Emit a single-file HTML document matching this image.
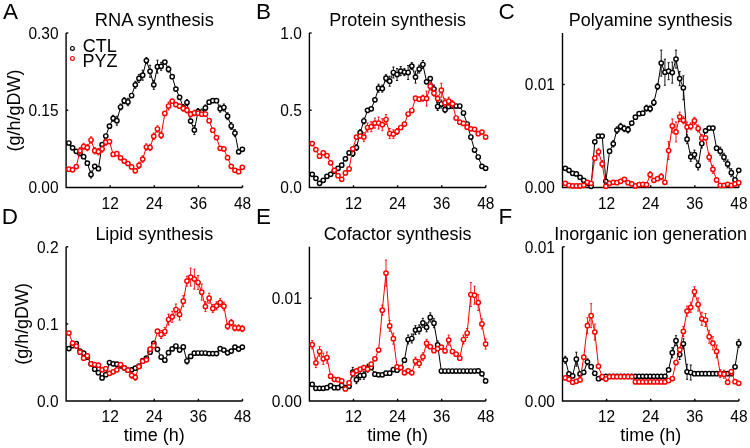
<!DOCTYPE html>
<html><head><meta charset="utf-8"><style>
html,body{margin:0;padding:0;background:#fff;width:750px;height:448px;overflow:hidden}
svg{display:block;will-change:transform}
text{font-family:"Liberation Sans",sans-serif}
</style></head><body>
<svg width="750" height="448" viewBox="0 0 750 448">
<rect width="750" height="448" fill="#fff"/>
<path d="M66.1 33V187.5H242.5" fill="none" stroke="#000" stroke-width="1.4" stroke-linejoin="miter" stroke-linecap="butt"/>
<text x="58.5" y="193.3" text-anchor="end" font-size="16" font-family="Liberation Sans, sans-serif" textLength="30.11" lengthAdjust="spacingAndGlyphs">0.00</text>
<path d="M66.1 110.25h2.2" stroke="#000" stroke-width="1.4"/>
<text x="58.5" y="116.05" text-anchor="end" font-size="16" font-family="Liberation Sans, sans-serif" textLength="30.11" lengthAdjust="spacingAndGlyphs">0.15</text>
<path d="M66.1 33h2.2" stroke="#000" stroke-width="1.4"/>
<text x="58.5" y="38.8" text-anchor="end" font-size="16" font-family="Liberation Sans, sans-serif" textLength="30.11" lengthAdjust="spacingAndGlyphs">0.30</text>
<path d="M110.2 187.5v-2.2" stroke="#000" stroke-width="1.4"/>
<text x="110.2" y="208.5" text-anchor="middle" font-size="16" font-family="Liberation Sans, sans-serif" textLength="17.21" lengthAdjust="spacingAndGlyphs">12</text>
<path d="M154.3 187.5v-2.2" stroke="#000" stroke-width="1.4"/>
<text x="154.3" y="208.5" text-anchor="middle" font-size="16" font-family="Liberation Sans, sans-serif" textLength="17.21" lengthAdjust="spacingAndGlyphs">24</text>
<path d="M198.4 187.5v-2.2" stroke="#000" stroke-width="1.4"/>
<text x="198.4" y="208.5" text-anchor="middle" font-size="16" font-family="Liberation Sans, sans-serif" textLength="17.21" lengthAdjust="spacingAndGlyphs">36</text>
<path d="M242.5 187.5v-2.2" stroke="#000" stroke-width="1.4"/>
<text x="242.5" y="208.5" text-anchor="middle" font-size="16" font-family="Liberation Sans, sans-serif" textLength="17.21" lengthAdjust="spacingAndGlyphs">48</text>
<text x="154.3" y="26.2" text-anchor="middle" font-size="18" font-family="Liberation Sans, sans-serif" textLength="118.98" lengthAdjust="spacingAndGlyphs">RNA synthesis</text>
<text x="3.1" y="18.5" font-size="22.5" font-family="Liberation Sans, sans-serif" textLength="14.98" lengthAdjust="spacingAndGlyphs">A</text>
<polyline points="68.89,143 72.58,147.8 76.27,151.3 79.96,153.6 83.65,156.7 87.34,163.2 91.03,174.5 94.72,166.3 98.41,168.7 102.1,144.7 105.79,136 109.48,126.2 113.17,118.3 116.86,120.7 120.55,107 124.24,100.7 127.93,102 131.62,95.5 135.31,84.8 139,78.4 142.69,75.2 146.38,60.6 150.07,71.3 153.76,84.8 157.45,66.7 161.14,66.3 164.83,62.1 168.52,69.2 172.21,76.7 175.9,89.1 179.59,97.3 183.28,107.5 186.97,102.5 190.66,121.1 194.35,130.1 198.04,111.5 201.73,112 205.42,107.9 209.11,102.2 212.8,100.7 216.49,100.7 220.18,108.7 223.87,107.5 227.56,116.2 231.25,126 234.94,133.1 238.63,151.8 242.32,149.3" fill="none" stroke="#000" stroke-width="1.0"/>
<path d="M91.03 171V178M89.93 171h2.2M89.93 178h2.2M113.17 115.3V121.3M112.07 115.3h2.2M112.07 121.3h2.2M116.86 116.2V125.2M115.76 116.2h2.2M115.76 125.2h2.2M120.55 104V110M119.45 104h2.2M119.45 110h2.2M124.24 97.7V103.7M123.14 97.7h2.2M123.14 103.7h2.2M127.93 98.3V105.7M126.83 98.3h2.2M126.83 105.7h2.2M135.31 81.3V88.3M134.21 81.3h2.2M134.21 88.3h2.2M139 74.4V82.4M137.9 74.4h2.2M137.9 82.4h2.2M142.69 70.2V80.2M141.59 70.2h2.2M141.59 80.2h2.2M146.38 57.6V63.6M145.28 57.6h2.2M145.28 63.6h2.2M150.07 65.3V77.3M148.97 65.3h2.2M148.97 77.3h2.2M153.76 80.3V89.3M152.66 80.3h2.2M152.66 89.3h2.2M157.45 60.2V73.2M156.35 60.2h2.2M156.35 73.2h2.2M161.14 62.3V70.3M160.04 62.3h2.2M160.04 70.3h2.2M168.52 66.2V72.2M167.42 66.2h2.2M167.42 72.2h2.2M183.28 104.5V110.5M182.18 104.5h2.2M182.18 110.5h2.2M186.97 99.5V105.5M185.87 99.5h2.2M185.87 105.5h2.2M194.35 125.6V134.6M193.25 125.6h2.2M193.25 134.6h2.2M198.04 108.5V114.5M196.94 108.5h2.2M196.94 114.5h2.2M201.73 109V115M200.63 109h2.2M200.63 115h2.2M205.42 104.9V110.9M204.32 104.9h2.2M204.32 110.9h2.2M220.18 105.2V112.2M219.08 105.2h2.2M219.08 112.2h2.2M223.87 104V111M222.77 104h2.2M222.77 111h2.2M227.56 112.7V119.7M226.46 112.7h2.2M226.46 119.7h2.2M231.25 122.5V129.5M230.15 122.5h2.2M230.15 129.5h2.2M234.94 129.6V136.6M233.84 129.6h2.2M233.84 136.6h2.2" fill="none" stroke="#000" stroke-width="0.9"/>
<g fill="#fff" stroke="#000" stroke-width="1.45"><circle cx="68.89" cy="143" r="2.15"/><circle cx="72.58" cy="147.8" r="2.15"/><circle cx="76.27" cy="151.3" r="2.15"/><circle cx="79.96" cy="153.6" r="2.15"/><circle cx="83.65" cy="156.7" r="2.15"/><circle cx="87.34" cy="163.2" r="2.15"/><circle cx="91.03" cy="174.5" r="2.15"/><circle cx="94.72" cy="166.3" r="2.15"/><circle cx="98.41" cy="168.7" r="2.15"/><circle cx="102.1" cy="144.7" r="2.15"/><circle cx="105.79" cy="136" r="2.15"/><circle cx="109.48" cy="126.2" r="2.15"/><circle cx="113.17" cy="118.3" r="2.15"/><circle cx="116.86" cy="120.7" r="2.15"/><circle cx="120.55" cy="107" r="2.15"/><circle cx="124.24" cy="100.7" r="2.15"/><circle cx="127.93" cy="102" r="2.15"/><circle cx="131.62" cy="95.5" r="2.15"/><circle cx="135.31" cy="84.8" r="2.15"/><circle cx="139" cy="78.4" r="2.15"/><circle cx="142.69" cy="75.2" r="2.15"/><circle cx="146.38" cy="60.6" r="2.15"/><circle cx="150.07" cy="71.3" r="2.15"/><circle cx="153.76" cy="84.8" r="2.15"/><circle cx="157.45" cy="66.7" r="2.15"/><circle cx="161.14" cy="66.3" r="2.15"/><circle cx="164.83" cy="62.1" r="2.15"/><circle cx="168.52" cy="69.2" r="2.15"/><circle cx="172.21" cy="76.7" r="2.15"/><circle cx="175.9" cy="89.1" r="2.15"/><circle cx="179.59" cy="97.3" r="2.15"/><circle cx="183.28" cy="107.5" r="2.15"/><circle cx="186.97" cy="102.5" r="2.15"/><circle cx="190.66" cy="121.1" r="2.15"/><circle cx="194.35" cy="130.1" r="2.15"/><circle cx="198.04" cy="111.5" r="2.15"/><circle cx="201.73" cy="112" r="2.15"/><circle cx="205.42" cy="107.9" r="2.15"/><circle cx="209.11" cy="102.2" r="2.15"/><circle cx="212.8" cy="100.7" r="2.15"/><circle cx="216.49" cy="100.7" r="2.15"/><circle cx="220.18" cy="108.7" r="2.15"/><circle cx="223.87" cy="107.5" r="2.15"/><circle cx="227.56" cy="116.2" r="2.15"/><circle cx="231.25" cy="126" r="2.15"/><circle cx="234.94" cy="133.1" r="2.15"/><circle cx="238.63" cy="151.8" r="2.15"/><circle cx="242.32" cy="149.3" r="2.15"/></g>
<polyline points="68.89,169.2 72.58,169.8 76.27,166.6 79.96,150.8 83.65,146.5 87.34,147.6 91.03,140 94.72,150.7 98.41,151.7 102.1,149 105.79,142.2 109.48,141.6 113.17,154.4 116.86,153.7 120.55,157.8 124.24,161.1 127.93,163.6 131.62,166.9 135.31,170.8 139,165.3 142.69,159.1 146.38,147 150.07,147.5 153.76,136.3 157.45,129 161.14,135.2 164.83,113.4 168.52,106 172.21,101.2 175.9,104.7 179.59,106.2 183.28,108.4 186.97,110.2 190.66,114.2 194.35,113 198.04,113.2 201.73,114.2 205.42,114 209.11,120.7 212.8,130.2 216.49,137.6 220.18,148.3 223.87,148.9 227.56,157.7 231.25,166.3 234.94,170.3 238.63,171.7 242.32,167.3" fill="none" stroke="#f00" stroke-width="1.0"/>
<path d="M79.96 147.6V154M78.86 147.6h2.2M78.86 154h2.2M83.65 143.3V149.7M82.55 143.3h2.2M82.55 149.7h2.2M87.34 144.4V150.8M86.24 144.4h2.2M86.24 150.8h2.2M91.03 136.8V143.2M89.93 136.8h2.2M89.93 143.2h2.2M94.72 147.5V153.9M93.62 147.5h2.2M93.62 153.9h2.2M98.41 148.5V154.9M97.31 148.5h2.2M97.31 154.9h2.2M102.1 145.8V152.2M101 145.8h2.2M101 152.2h2.2M105.79 139V145.4M104.69 139h2.2M104.69 145.4h2.2M139 162.1V168.5M137.9 162.1h2.2M137.9 168.5h2.2M142.69 155.9V162.3M141.59 155.9h2.2M141.59 162.3h2.2M146.38 143.8V150.2M145.28 143.8h2.2M145.28 150.2h2.2M150.07 144.3V150.7M148.97 144.3h2.2M148.97 150.7h2.2M153.76 133.1V139.5M152.66 133.1h2.2M152.66 139.5h2.2M157.45 125.8V132.2M156.35 125.8h2.2M156.35 132.2h2.2M161.14 132V138.4M160.04 132h2.2M160.04 138.4h2.2M168.52 102V110M167.42 102h2.2M167.42 110h2.2M183.28 105.6V111.2M182.18 105.6h2.2M182.18 111.2h2.2M186.97 107.4V113M185.87 107.4h2.2M185.87 113h2.2M190.66 111.4V117M189.56 111.4h2.2M189.56 117h2.2M194.35 110.2V115.8M193.25 110.2h2.2M193.25 115.8h2.2" fill="none" stroke="#f00" stroke-width="0.9"/>
<g fill="#fff" stroke="#f00" stroke-width="1.45"><circle cx="68.89" cy="169.2" r="2.15"/><circle cx="72.58" cy="169.8" r="2.15"/><circle cx="76.27" cy="166.6" r="2.15"/><circle cx="79.96" cy="150.8" r="2.15"/><circle cx="83.65" cy="146.5" r="2.15"/><circle cx="87.34" cy="147.6" r="2.15"/><circle cx="91.03" cy="140" r="2.15"/><circle cx="94.72" cy="150.7" r="2.15"/><circle cx="98.41" cy="151.7" r="2.15"/><circle cx="102.1" cy="149" r="2.15"/><circle cx="105.79" cy="142.2" r="2.15"/><circle cx="109.48" cy="141.6" r="2.15"/><circle cx="113.17" cy="154.4" r="2.15"/><circle cx="116.86" cy="153.7" r="2.15"/><circle cx="120.55" cy="157.8" r="2.15"/><circle cx="124.24" cy="161.1" r="2.15"/><circle cx="127.93" cy="163.6" r="2.15"/><circle cx="131.62" cy="166.9" r="2.15"/><circle cx="135.31" cy="170.8" r="2.15"/><circle cx="139" cy="165.3" r="2.15"/><circle cx="142.69" cy="159.1" r="2.15"/><circle cx="146.38" cy="147" r="2.15"/><circle cx="150.07" cy="147.5" r="2.15"/><circle cx="153.76" cy="136.3" r="2.15"/><circle cx="157.45" cy="129" r="2.15"/><circle cx="161.14" cy="135.2" r="2.15"/><circle cx="164.83" cy="113.4" r="2.15"/><circle cx="168.52" cy="106" r="2.15"/><circle cx="172.21" cy="101.2" r="2.15"/><circle cx="175.9" cy="104.7" r="2.15"/><circle cx="179.59" cy="106.2" r="2.15"/><circle cx="183.28" cy="108.4" r="2.15"/><circle cx="186.97" cy="110.2" r="2.15"/><circle cx="190.66" cy="114.2" r="2.15"/><circle cx="194.35" cy="113" r="2.15"/><circle cx="198.04" cy="113.2" r="2.15"/><circle cx="201.73" cy="114.2" r="2.15"/><circle cx="205.42" cy="114" r="2.15"/><circle cx="209.11" cy="120.7" r="2.15"/><circle cx="212.8" cy="130.2" r="2.15"/><circle cx="216.49" cy="137.6" r="2.15"/><circle cx="220.18" cy="148.3" r="2.15"/><circle cx="223.87" cy="148.9" r="2.15"/><circle cx="227.56" cy="157.7" r="2.15"/><circle cx="231.25" cy="166.3" r="2.15"/><circle cx="234.94" cy="170.3" r="2.15"/><circle cx="238.63" cy="171.7" r="2.15"/><circle cx="242.32" cy="167.3" r="2.15"/></g>
<path d="M309.4 33V187.5H485.8" fill="none" stroke="#000" stroke-width="1.4" stroke-linejoin="miter" stroke-linecap="butt"/>
<text x="301.8" y="193.3" text-anchor="end" font-size="16" font-family="Liberation Sans, sans-serif" textLength="21.50" lengthAdjust="spacingAndGlyphs">0.0</text>
<path d="M309.4 110.25h2.2" stroke="#000" stroke-width="1.4"/>
<text x="301.8" y="116.05" text-anchor="end" font-size="16" font-family="Liberation Sans, sans-serif" textLength="21.50" lengthAdjust="spacingAndGlyphs">0.5</text>
<path d="M309.4 33h2.2" stroke="#000" stroke-width="1.4"/>
<text x="301.8" y="38.8" text-anchor="end" font-size="16" font-family="Liberation Sans, sans-serif" textLength="21.50" lengthAdjust="spacingAndGlyphs">1.0</text>
<path d="M353.5 187.5v-2.2" stroke="#000" stroke-width="1.4"/>
<text x="353.5" y="208.5" text-anchor="middle" font-size="16" font-family="Liberation Sans, sans-serif" textLength="17.21" lengthAdjust="spacingAndGlyphs">12</text>
<path d="M397.6 187.5v-2.2" stroke="#000" stroke-width="1.4"/>
<text x="397.6" y="208.5" text-anchor="middle" font-size="16" font-family="Liberation Sans, sans-serif" textLength="17.21" lengthAdjust="spacingAndGlyphs">24</text>
<path d="M441.7 187.5v-2.2" stroke="#000" stroke-width="1.4"/>
<text x="441.7" y="208.5" text-anchor="middle" font-size="16" font-family="Liberation Sans, sans-serif" textLength="17.21" lengthAdjust="spacingAndGlyphs">36</text>
<path d="M485.8 187.5v-2.2" stroke="#000" stroke-width="1.4"/>
<text x="485.8" y="208.5" text-anchor="middle" font-size="16" font-family="Liberation Sans, sans-serif" textLength="17.21" lengthAdjust="spacingAndGlyphs">48</text>
<text x="397.6" y="26.2" text-anchor="middle" font-size="18" font-family="Liberation Sans, sans-serif" textLength="136.79" lengthAdjust="spacingAndGlyphs">Protein synthesis</text>
<text x="256" y="18.6" font-size="22.5" font-family="Liberation Sans, sans-serif" textLength="14.98" lengthAdjust="spacingAndGlyphs">B</text>
<polyline points="312.19,174.3 315.88,178.3 319.57,183.3 323.26,180.3 326.95,176.3 330.64,174.3 334.33,171 338.02,168.3 341.71,165.2 345.4,158.8 349.09,152.8 352.78,153.5 356.47,147.6 360.16,132.7 363.85,121 367.54,110.3 371.23,108.8 374.92,99.8 378.61,88.2 382.3,88.6 385.99,78.2 389.68,81.2 393.37,72.5 397.06,74.5 400.75,71.1 404.44,72.1 408.13,72.5 411.82,66.1 415.51,77.1 419.2,69.1 422.89,64.5 426.58,81.8 430.27,78.6 433.96,89 437.65,106.5 441.34,104 445.03,109.7 448.72,106.5 452.41,106 456.1,106 459.79,106 463.48,113 467.17,124 470.86,137 474.55,150 478.24,157 481.93,166.3 485.62,168.3" fill="none" stroke="#000" stroke-width="1.0"/>
<path d="M352.78 150.5V156.5M351.68 150.5h2.2M351.68 156.5h2.2M356.47 144.6V150.6M355.37 144.6h2.2M355.37 150.6h2.2M360.16 129.7V135.7M359.06 129.7h2.2M359.06 135.7h2.2M363.85 118V124M362.75 118h2.2M362.75 124h2.2M378.61 84.2V92.2M377.51 84.2h2.2M377.51 92.2h2.2M382.3 85.1V92.1M381.2 85.1h2.2M381.2 92.1h2.2M385.99 74.7V81.7M384.89 74.7h2.2M384.89 81.7h2.2M389.68 76.2V86.2M388.58 76.2h2.2M388.58 86.2h2.2M393.37 67V78M392.27 67h2.2M392.27 78h2.2M397.06 68.5V80.5M395.96 68.5h2.2M395.96 80.5h2.2M400.75 66.6V75.6M399.65 66.6h2.2M399.65 75.6h2.2M404.44 68.6V75.6M403.34 68.6h2.2M403.34 75.6h2.2M408.13 65.5V79.5M407.03 65.5h2.2M407.03 79.5h2.2M411.82 62.6V69.6M410.72 62.6h2.2M410.72 69.6h2.2M415.51 71.1V83.1M414.41 71.1h2.2M414.41 83.1h2.2M419.2 65.1V73.1M418.1 65.1h2.2M418.1 73.1h2.2M422.89 60.5V68.5M421.79 60.5h2.2M421.79 68.5h2.2M433.96 85V93M432.86 85h2.2M432.86 93h2.2M437.65 102.5V110.5M436.55 102.5h2.2M436.55 110.5h2.2M441.34 100V108M440.24 100h2.2M440.24 108h2.2M445.03 106.7V112.7M443.93 106.7h2.2M443.93 112.7h2.2" fill="none" stroke="#000" stroke-width="0.9"/>
<g fill="#fff" stroke="#000" stroke-width="1.45"><circle cx="312.19" cy="174.3" r="2.15"/><circle cx="315.88" cy="178.3" r="2.15"/><circle cx="319.57" cy="183.3" r="2.15"/><circle cx="323.26" cy="180.3" r="2.15"/><circle cx="326.95" cy="176.3" r="2.15"/><circle cx="330.64" cy="174.3" r="2.15"/><circle cx="334.33" cy="171" r="2.15"/><circle cx="338.02" cy="168.3" r="2.15"/><circle cx="341.71" cy="165.2" r="2.15"/><circle cx="345.4" cy="158.8" r="2.15"/><circle cx="349.09" cy="152.8" r="2.15"/><circle cx="352.78" cy="153.5" r="2.15"/><circle cx="356.47" cy="147.6" r="2.15"/><circle cx="360.16" cy="132.7" r="2.15"/><circle cx="363.85" cy="121" r="2.15"/><circle cx="367.54" cy="110.3" r="2.15"/><circle cx="371.23" cy="108.8" r="2.15"/><circle cx="374.92" cy="99.8" r="2.15"/><circle cx="378.61" cy="88.2" r="2.15"/><circle cx="382.3" cy="88.6" r="2.15"/><circle cx="385.99" cy="78.2" r="2.15"/><circle cx="389.68" cy="81.2" r="2.15"/><circle cx="393.37" cy="72.5" r="2.15"/><circle cx="397.06" cy="74.5" r="2.15"/><circle cx="400.75" cy="71.1" r="2.15"/><circle cx="404.44" cy="72.1" r="2.15"/><circle cx="408.13" cy="72.5" r="2.15"/><circle cx="411.82" cy="66.1" r="2.15"/><circle cx="415.51" cy="77.1" r="2.15"/><circle cx="419.2" cy="69.1" r="2.15"/><circle cx="422.89" cy="64.5" r="2.15"/><circle cx="426.58" cy="81.8" r="2.15"/><circle cx="430.27" cy="78.6" r="2.15"/><circle cx="433.96" cy="89" r="2.15"/><circle cx="437.65" cy="106.5" r="2.15"/><circle cx="441.34" cy="104" r="2.15"/><circle cx="445.03" cy="109.7" r="2.15"/><circle cx="448.72" cy="106.5" r="2.15"/><circle cx="452.41" cy="106" r="2.15"/><circle cx="456.1" cy="106" r="2.15"/><circle cx="459.79" cy="106" r="2.15"/><circle cx="463.48" cy="113" r="2.15"/><circle cx="467.17" cy="124" r="2.15"/><circle cx="470.86" cy="137" r="2.15"/><circle cx="474.55" cy="150" r="2.15"/><circle cx="478.24" cy="157" r="2.15"/><circle cx="481.93" cy="166.3" r="2.15"/><circle cx="485.62" cy="168.3" r="2.15"/></g>
<polyline points="312.19,143.6 315.88,149.6 319.57,156.2 323.26,152.8 326.95,155.6 330.64,162.8 334.33,170.3 338.02,175.7 341.71,179.3 345.4,172.9 349.09,168.9 352.78,148.8 356.47,137.1 360.16,136.1 363.85,137.1 367.54,127.5 371.23,126.7 374.92,123.1 378.61,123.1 382.3,124.7 385.99,119.5 389.68,133.5 393.37,134.1 397.06,131.5 400.75,127.5 404.44,124.1 408.13,114 411.82,110.5 415.51,98.2 419.2,99.2 422.89,98.2 426.58,98.6 430.27,86.2 433.96,93.2 437.65,98.6 441.34,90.2 445.03,102.7 448.72,101.2 452.41,103.9 456.1,118 459.79,122.2 463.48,123.4 467.17,127.2 470.86,128.8 474.55,129.3 478.24,133.7 481.93,132.1 485.62,137.1" fill="none" stroke="#f00" stroke-width="1.0"/>
<path d="M363.85 132.6V141.6M362.75 132.6h2.2M362.75 141.6h2.2M367.54 123V132M366.44 123h2.2M366.44 132h2.2M371.23 121.7V131.7M370.13 121.7h2.2M370.13 131.7h2.2M374.92 118.1V128.1M373.82 118.1h2.2M373.82 128.1h2.2M378.61 117.1V129.1M377.51 117.1h2.2M377.51 129.1h2.2M382.3 118.7V130.7M381.2 118.7h2.2M381.2 130.7h2.2M385.99 114.5V124.5M384.89 114.5h2.2M384.89 124.5h2.2M389.68 128.5V138.5M388.58 128.5h2.2M388.58 138.5h2.2M393.37 129.8V138.4M392.27 129.8h2.2M392.27 138.4h2.2M397.06 128.5V134.5M395.96 128.5h2.2M395.96 134.5h2.2M422.89 95.2V101.2M421.79 95.2h2.2M421.79 101.2h2.2M426.58 91.1V106.1M425.48 91.1h2.2M425.48 106.1h2.2M430.27 82.2V90.2M429.17 82.2h2.2M429.17 90.2h2.2M433.96 90.2V96.2M432.86 90.2h2.2M432.86 96.2h2.2M437.65 95.6V101.6M436.55 95.6h2.2M436.55 101.6h2.2M441.34 83.2V97.2M440.24 83.2h2.2M440.24 97.2h2.2M445.03 98.7V106.7M443.93 98.7h2.2M443.93 106.7h2.2M448.72 97.2V105.2M447.62 97.2h2.2M447.62 105.2h2.2M452.41 100.4V107.4M451.31 100.4h2.2M451.31 107.4h2.2" fill="none" stroke="#f00" stroke-width="0.9"/>
<g fill="#fff" stroke="#f00" stroke-width="1.45"><circle cx="312.19" cy="143.6" r="2.15"/><circle cx="315.88" cy="149.6" r="2.15"/><circle cx="319.57" cy="156.2" r="2.15"/><circle cx="323.26" cy="152.8" r="2.15"/><circle cx="326.95" cy="155.6" r="2.15"/><circle cx="330.64" cy="162.8" r="2.15"/><circle cx="334.33" cy="170.3" r="2.15"/><circle cx="338.02" cy="175.7" r="2.15"/><circle cx="341.71" cy="179.3" r="2.15"/><circle cx="345.4" cy="172.9" r="2.15"/><circle cx="349.09" cy="168.9" r="2.15"/><circle cx="352.78" cy="148.8" r="2.15"/><circle cx="356.47" cy="137.1" r="2.15"/><circle cx="360.16" cy="136.1" r="2.15"/><circle cx="363.85" cy="137.1" r="2.15"/><circle cx="367.54" cy="127.5" r="2.15"/><circle cx="371.23" cy="126.7" r="2.15"/><circle cx="374.92" cy="123.1" r="2.15"/><circle cx="378.61" cy="123.1" r="2.15"/><circle cx="382.3" cy="124.7" r="2.15"/><circle cx="385.99" cy="119.5" r="2.15"/><circle cx="389.68" cy="133.5" r="2.15"/><circle cx="393.37" cy="134.1" r="2.15"/><circle cx="397.06" cy="131.5" r="2.15"/><circle cx="400.75" cy="127.5" r="2.15"/><circle cx="404.44" cy="124.1" r="2.15"/><circle cx="408.13" cy="114" r="2.15"/><circle cx="411.82" cy="110.5" r="2.15"/><circle cx="415.51" cy="98.2" r="2.15"/><circle cx="419.2" cy="99.2" r="2.15"/><circle cx="422.89" cy="98.2" r="2.15"/><circle cx="426.58" cy="98.6" r="2.15"/><circle cx="430.27" cy="86.2" r="2.15"/><circle cx="433.96" cy="93.2" r="2.15"/><circle cx="437.65" cy="98.6" r="2.15"/><circle cx="441.34" cy="90.2" r="2.15"/><circle cx="445.03" cy="102.7" r="2.15"/><circle cx="448.72" cy="101.2" r="2.15"/><circle cx="452.41" cy="103.9" r="2.15"/><circle cx="456.1" cy="118" r="2.15"/><circle cx="459.79" cy="122.2" r="2.15"/><circle cx="463.48" cy="123.4" r="2.15"/><circle cx="467.17" cy="127.2" r="2.15"/><circle cx="470.86" cy="128.8" r="2.15"/><circle cx="474.55" cy="129.3" r="2.15"/><circle cx="478.24" cy="133.7" r="2.15"/><circle cx="481.93" cy="132.1" r="2.15"/><circle cx="485.62" cy="137.1" r="2.15"/></g>
<path d="M562.5 33V187.5H738.9" fill="none" stroke="#000" stroke-width="1.4" stroke-linejoin="miter" stroke-linecap="butt"/>
<text x="554.9" y="193.3" text-anchor="end" font-size="16" font-family="Liberation Sans, sans-serif" textLength="30.11" lengthAdjust="spacingAndGlyphs">0.00</text>
<path d="M562.5 84.5h2.2" stroke="#000" stroke-width="1.4"/>
<text x="554.9" y="90.3" text-anchor="end" font-size="16" font-family="Liberation Sans, sans-serif" textLength="30.11" lengthAdjust="spacingAndGlyphs">0.01</text>
<path d="M606.6 187.5v-2.2" stroke="#000" stroke-width="1.4"/>
<text x="606.6" y="208.5" text-anchor="middle" font-size="16" font-family="Liberation Sans, sans-serif" textLength="17.21" lengthAdjust="spacingAndGlyphs">12</text>
<path d="M650.7 187.5v-2.2" stroke="#000" stroke-width="1.4"/>
<text x="650.7" y="208.5" text-anchor="middle" font-size="16" font-family="Liberation Sans, sans-serif" textLength="17.21" lengthAdjust="spacingAndGlyphs">24</text>
<path d="M694.8 187.5v-2.2" stroke="#000" stroke-width="1.4"/>
<text x="694.8" y="208.5" text-anchor="middle" font-size="16" font-family="Liberation Sans, sans-serif" textLength="17.21" lengthAdjust="spacingAndGlyphs">36</text>
<path d="M738.9 187.5v-2.2" stroke="#000" stroke-width="1.4"/>
<text x="738.9" y="208.5" text-anchor="middle" font-size="16" font-family="Liberation Sans, sans-serif" textLength="17.21" lengthAdjust="spacingAndGlyphs">48</text>
<text x="650.7" y="26.2" text-anchor="middle" font-size="18" font-family="Liberation Sans, sans-serif" textLength="163.75" lengthAdjust="spacingAndGlyphs">Polyamine synthesis</text>
<text x="498.5" y="18.6" font-size="22.5" font-family="Liberation Sans, sans-serif" textLength="16.22" lengthAdjust="spacingAndGlyphs">C</text>
<polyline points="565.29,168.3 568.98,170.3 572.67,173.3 576.36,173.9 580.05,177.3 583.74,180.3 587.43,183.3 591.12,186.3 594.81,141.8 598.5,136.1 602.19,136.1 605.88,181.3 609.57,151.2 613.26,143.8 616.95,130.1 620.64,126.5 624.33,128.5 628.02,129.7 631.71,123.1 635.4,117.2 639.09,113.7 642.78,113.2 646.47,108.2 650.16,108.8 653.85,102.5 657.54,86.6 661.23,63.1 664.92,72.2 668.61,71.2 672.3,72.6 675.99,59.1 679.68,78.6 683.37,87.8 687.06,139.2 690.75,156.8 694.44,154.6 698.13,165.5 701.82,143.5 705.51,130.8 709.2,128.1 712.89,128.1 716.58,148.2 720.27,151.2 723.96,157.2 727.65,163.9 731.34,172.7 735.03,179.9 738.72,170.3" fill="none" stroke="#000" stroke-width="1.0"/>
<path d="M613.26 140.6V147M612.16 140.6h2.2M612.16 147h2.2M616.95 126.9V133.3M615.85 126.9h2.2M615.85 133.3h2.2M620.64 123.3V129.7M619.54 123.3h2.2M619.54 129.7h2.2M624.33 125.3V131.7M623.23 125.3h2.2M623.23 131.7h2.2M628.02 126.5V132.9M626.92 126.5h2.2M626.92 132.9h2.2M646.47 105.2V111.2M645.37 105.2h2.2M645.37 111.2h2.2M650.16 105.8V111.8M649.06 105.8h2.2M649.06 111.8h2.2M653.85 99.5V105.5M652.75 99.5h2.2M652.75 105.5h2.2M657.54 83.6V89.6M656.44 83.6h2.2M656.44 89.6h2.2M661.23 50.1V76.1M660.13 50.1h2.2M660.13 76.1h2.2M664.92 59.2V85.2M663.82 59.2h2.2M663.82 85.2h2.2M668.61 62.7V79.7M667.51 62.7h2.2M667.51 79.7h2.2M672.3 62.1V83.1M671.2 62.1h2.2M671.2 83.1h2.2M675.99 50.1V68.1M674.89 50.1h2.2M674.89 68.1h2.2M679.68 71.6V85.6M678.58 71.6h2.2M678.58 85.6h2.2M683.37 75.8V99.8M682.27 75.8h2.2M682.27 99.8h2.2M687.06 134.7V143.7M685.96 134.7h2.2M685.96 143.7h2.2M690.75 152.3V161.3M689.65 152.3h2.2M689.65 161.3h2.2M694.44 150.1V159.1M693.34 150.1h2.2M693.34 159.1h2.2M698.13 161V170M697.03 161h2.2M697.03 170h2.2M701.82 139V148M700.72 139h2.2M700.72 148h2.2M720.27 147.2V155.2M719.17 147.2h2.2M719.17 155.2h2.2M723.96 153.2V161.2M722.86 153.2h2.2M722.86 161.2h2.2M727.65 159.9V167.9M726.55 159.9h2.2M726.55 167.9h2.2M731.34 168.7V176.7M730.24 168.7h2.2M730.24 176.7h2.2" fill="none" stroke="#000" stroke-width="0.9"/>
<g fill="#fff" stroke="#000" stroke-width="1.45"><circle cx="565.29" cy="168.3" r="2.15"/><circle cx="568.98" cy="170.3" r="2.15"/><circle cx="572.67" cy="173.3" r="2.15"/><circle cx="576.36" cy="173.9" r="2.15"/><circle cx="580.05" cy="177.3" r="2.15"/><circle cx="583.74" cy="180.3" r="2.15"/><circle cx="587.43" cy="183.3" r="2.15"/><circle cx="591.12" cy="186.3" r="2.15"/><circle cx="594.81" cy="141.8" r="2.15"/><circle cx="598.5" cy="136.1" r="2.15"/><circle cx="602.19" cy="136.1" r="2.15"/><circle cx="605.88" cy="181.3" r="2.15"/><circle cx="609.57" cy="151.2" r="2.15"/><circle cx="613.26" cy="143.8" r="2.15"/><circle cx="616.95" cy="130.1" r="2.15"/><circle cx="620.64" cy="126.5" r="2.15"/><circle cx="624.33" cy="128.5" r="2.15"/><circle cx="628.02" cy="129.7" r="2.15"/><circle cx="631.71" cy="123.1" r="2.15"/><circle cx="635.4" cy="117.2" r="2.15"/><circle cx="639.09" cy="113.7" r="2.15"/><circle cx="642.78" cy="113.2" r="2.15"/><circle cx="646.47" cy="108.2" r="2.15"/><circle cx="650.16" cy="108.8" r="2.15"/><circle cx="653.85" cy="102.5" r="2.15"/><circle cx="657.54" cy="86.6" r="2.15"/><circle cx="661.23" cy="63.1" r="2.15"/><circle cx="664.92" cy="72.2" r="2.15"/><circle cx="668.61" cy="71.2" r="2.15"/><circle cx="672.3" cy="72.6" r="2.15"/><circle cx="675.99" cy="59.1" r="2.15"/><circle cx="679.68" cy="78.6" r="2.15"/><circle cx="683.37" cy="87.8" r="2.15"/><circle cx="687.06" cy="139.2" r="2.15"/><circle cx="690.75" cy="156.8" r="2.15"/><circle cx="694.44" cy="154.6" r="2.15"/><circle cx="698.13" cy="165.5" r="2.15"/><circle cx="701.82" cy="143.5" r="2.15"/><circle cx="705.51" cy="130.8" r="2.15"/><circle cx="709.2" cy="128.1" r="2.15"/><circle cx="712.89" cy="128.1" r="2.15"/><circle cx="716.58" cy="148.2" r="2.15"/><circle cx="720.27" cy="151.2" r="2.15"/><circle cx="723.96" cy="157.2" r="2.15"/><circle cx="727.65" cy="163.9" r="2.15"/><circle cx="731.34" cy="172.7" r="2.15"/><circle cx="735.03" cy="179.9" r="2.15"/><circle cx="738.72" cy="170.3" r="2.15"/></g>
<polyline points="565.29,183.3 568.98,185.3 572.67,185.9 576.36,185.9 580.05,185.9 583.74,185.3 587.43,182.3 591.12,183.3 594.81,158.2 598.5,151.8 602.19,163.9 605.88,186.3 609.57,183.3 613.26,182.3 616.95,182.7 620.64,181.3 624.33,179.3 628.02,182.7 631.71,183.9 635.4,185.9 639.09,184.7 642.78,184.3 646.47,184.7 650.16,174.7 653.85,180.3 657.54,178.7 661.23,176.7 664.92,182.3 668.61,150.6 672.3,125.9 675.99,131.9 679.68,116.8 683.37,120.3 687.06,127.1 690.75,126.3 694.44,120.8 698.13,128.5 701.82,138 705.51,137.8 709.2,157.2 712.89,169.3 716.58,179.9 720.27,185.3 723.96,185.3 727.65,184.3 731.34,185.3 735.03,183.9 738.72,182.7" fill="none" stroke="#f00" stroke-width="1.0"/>
<path d="M598.5 148.3V155.3M597.4 148.3h2.2M597.4 155.3h2.2M602.19 160.4V167.4M601.09 160.4h2.2M601.09 167.4h2.2M650.16 171.7V177.7M649.06 171.7h2.2M649.06 177.7h2.2M661.23 173.7V179.7M660.13 173.7h2.2M660.13 179.7h2.2M668.61 141.6V159.6M667.51 141.6h2.2M667.51 159.6h2.2M672.3 118.9V132.9M671.2 118.9h2.2M671.2 132.9h2.2M675.99 121.9V141.9M674.89 121.9h2.2M674.89 141.9h2.2M679.68 112.1V121.5M678.58 112.1h2.2M678.58 121.5h2.2M683.37 116.8V123.8M682.27 116.8h2.2M682.27 123.8h2.2M687.06 122.1V132.1M685.96 122.1h2.2M685.96 132.1h2.2M690.75 122.8V129.8M689.65 122.8h2.2M689.65 129.8h2.2M694.44 117.3V124.3M693.34 117.3h2.2M693.34 124.3h2.2M698.13 125V132M697.03 125h2.2M697.03 132h2.2M701.82 134.5V141.5M700.72 134.5h2.2M700.72 141.5h2.2M709.2 153.2V161.2M708.1 153.2h2.2M708.1 161.2h2.2M712.89 165.3V173.3M711.79 165.3h2.2M711.79 173.3h2.2" fill="none" stroke="#f00" stroke-width="0.9"/>
<g fill="#fff" stroke="#f00" stroke-width="1.45"><circle cx="565.29" cy="183.3" r="2.15"/><circle cx="568.98" cy="185.3" r="2.15"/><circle cx="572.67" cy="185.9" r="2.15"/><circle cx="576.36" cy="185.9" r="2.15"/><circle cx="580.05" cy="185.9" r="2.15"/><circle cx="583.74" cy="185.3" r="2.15"/><circle cx="587.43" cy="182.3" r="2.15"/><circle cx="591.12" cy="183.3" r="2.15"/><circle cx="594.81" cy="158.2" r="2.15"/><circle cx="598.5" cy="151.8" r="2.15"/><circle cx="602.19" cy="163.9" r="2.15"/><circle cx="605.88" cy="186.3" r="2.15"/><circle cx="609.57" cy="183.3" r="2.15"/><circle cx="613.26" cy="182.3" r="2.15"/><circle cx="616.95" cy="182.7" r="2.15"/><circle cx="620.64" cy="181.3" r="2.15"/><circle cx="624.33" cy="179.3" r="2.15"/><circle cx="628.02" cy="182.7" r="2.15"/><circle cx="631.71" cy="183.9" r="2.15"/><circle cx="635.4" cy="185.9" r="2.15"/><circle cx="639.09" cy="184.7" r="2.15"/><circle cx="642.78" cy="184.3" r="2.15"/><circle cx="646.47" cy="184.7" r="2.15"/><circle cx="650.16" cy="174.7" r="2.15"/><circle cx="653.85" cy="180.3" r="2.15"/><circle cx="657.54" cy="178.7" r="2.15"/><circle cx="661.23" cy="176.7" r="2.15"/><circle cx="664.92" cy="182.3" r="2.15"/><circle cx="668.61" cy="150.6" r="2.15"/><circle cx="672.3" cy="125.9" r="2.15"/><circle cx="675.99" cy="131.9" r="2.15"/><circle cx="679.68" cy="116.8" r="2.15"/><circle cx="683.37" cy="120.3" r="2.15"/><circle cx="687.06" cy="127.1" r="2.15"/><circle cx="690.75" cy="126.3" r="2.15"/><circle cx="694.44" cy="120.8" r="2.15"/><circle cx="698.13" cy="128.5" r="2.15"/><circle cx="701.82" cy="138" r="2.15"/><circle cx="705.51" cy="137.8" r="2.15"/><circle cx="709.2" cy="157.2" r="2.15"/><circle cx="712.89" cy="169.3" r="2.15"/><circle cx="716.58" cy="179.9" r="2.15"/><circle cx="720.27" cy="185.3" r="2.15"/><circle cx="723.96" cy="185.3" r="2.15"/><circle cx="727.65" cy="184.3" r="2.15"/><circle cx="731.34" cy="185.3" r="2.15"/><circle cx="735.03" cy="183.9" r="2.15"/><circle cx="738.72" cy="182.7" r="2.15"/></g>
<path d="M66.1 246.8V401H242.5" fill="none" stroke="#000" stroke-width="1.4" stroke-linejoin="miter" stroke-linecap="butt"/>
<text x="58.5" y="406.8" text-anchor="end" font-size="16" font-family="Liberation Sans, sans-serif" textLength="21.50" lengthAdjust="spacingAndGlyphs">0.0</text>
<path d="M66.1 323.9h2.2" stroke="#000" stroke-width="1.4"/>
<text x="58.5" y="329.7" text-anchor="end" font-size="16" font-family="Liberation Sans, sans-serif" textLength="21.50" lengthAdjust="spacingAndGlyphs">0.1</text>
<path d="M66.1 246.8h2.2" stroke="#000" stroke-width="1.4"/>
<text x="58.5" y="252.6" text-anchor="end" font-size="16" font-family="Liberation Sans, sans-serif" textLength="21.50" lengthAdjust="spacingAndGlyphs">0.2</text>
<path d="M110.2 401v-2.2" stroke="#000" stroke-width="1.4"/>
<text x="110.2" y="422" text-anchor="middle" font-size="16" font-family="Liberation Sans, sans-serif" textLength="17.21" lengthAdjust="spacingAndGlyphs">12</text>
<path d="M154.3 401v-2.2" stroke="#000" stroke-width="1.4"/>
<text x="154.3" y="422" text-anchor="middle" font-size="16" font-family="Liberation Sans, sans-serif" textLength="17.21" lengthAdjust="spacingAndGlyphs">24</text>
<path d="M198.4 401v-2.2" stroke="#000" stroke-width="1.4"/>
<text x="198.4" y="422" text-anchor="middle" font-size="16" font-family="Liberation Sans, sans-serif" textLength="17.21" lengthAdjust="spacingAndGlyphs">36</text>
<path d="M242.5 401v-2.2" stroke="#000" stroke-width="1.4"/>
<text x="242.5" y="422" text-anchor="middle" font-size="16" font-family="Liberation Sans, sans-serif" textLength="17.21" lengthAdjust="spacingAndGlyphs">48</text>
<text x="154.3" y="240" text-anchor="middle" font-size="18" font-family="Liberation Sans, sans-serif" textLength="117.83" lengthAdjust="spacingAndGlyphs">Lipid synthesis</text>
<text x="1.7" y="223.7" font-size="22.5" font-family="Liberation Sans, sans-serif" textLength="16.22" lengthAdjust="spacingAndGlyphs">D</text>
<polyline points="68.89,348.6 72.58,345.5 76.27,343.7 79.96,351 83.65,353.2 87.34,357.2 91.03,363.8 94.72,369.2 98.41,372.7 102.1,377.9 105.79,374.7 109.48,362.6 113.17,363.8 116.86,364.2 120.55,365.8 124.24,367.8 127.93,370.2 131.62,369.8 135.31,368.2 139,366.2 142.69,360.6 146.38,358.2 150.07,352.2 153.76,343.4 157.45,349.3 161.14,357 164.83,360.2 168.52,352.7 172.21,348.9 175.9,346 179.59,350 183.28,346.9 186.97,361 190.66,356.4 194.35,353.2 198.04,353 201.73,353 205.42,353 209.11,353.6 212.8,353.6 216.49,353.6 220.18,348.7 223.87,350.1 227.56,352.8 231.25,351.1 234.94,347.1 238.63,349.1 242.32,347.1" fill="none" stroke="#000" stroke-width="1.0"/>
<path d="M186.97 358V364M185.87 358h2.2M185.87 364h2.2" fill="none" stroke="#000" stroke-width="0.9"/>
<g fill="#fff" stroke="#000" stroke-width="1.45"><circle cx="68.89" cy="348.6" r="2.15"/><circle cx="72.58" cy="345.5" r="2.15"/><circle cx="76.27" cy="343.7" r="2.15"/><circle cx="79.96" cy="351" r="2.15"/><circle cx="83.65" cy="353.2" r="2.15"/><circle cx="87.34" cy="357.2" r="2.15"/><circle cx="91.03" cy="363.8" r="2.15"/><circle cx="94.72" cy="369.2" r="2.15"/><circle cx="98.41" cy="372.7" r="2.15"/><circle cx="102.1" cy="377.9" r="2.15"/><circle cx="105.79" cy="374.7" r="2.15"/><circle cx="109.48" cy="362.6" r="2.15"/><circle cx="113.17" cy="363.8" r="2.15"/><circle cx="116.86" cy="364.2" r="2.15"/><circle cx="120.55" cy="365.8" r="2.15"/><circle cx="124.24" cy="367.8" r="2.15"/><circle cx="127.93" cy="370.2" r="2.15"/><circle cx="131.62" cy="369.8" r="2.15"/><circle cx="135.31" cy="368.2" r="2.15"/><circle cx="139" cy="366.2" r="2.15"/><circle cx="142.69" cy="360.6" r="2.15"/><circle cx="146.38" cy="358.2" r="2.15"/><circle cx="150.07" cy="352.2" r="2.15"/><circle cx="153.76" cy="343.4" r="2.15"/><circle cx="157.45" cy="349.3" r="2.15"/><circle cx="161.14" cy="357" r="2.15"/><circle cx="164.83" cy="360.2" r="2.15"/><circle cx="168.52" cy="352.7" r="2.15"/><circle cx="172.21" cy="348.9" r="2.15"/><circle cx="175.9" cy="346" r="2.15"/><circle cx="179.59" cy="350" r="2.15"/><circle cx="183.28" cy="346.9" r="2.15"/><circle cx="186.97" cy="361" r="2.15"/><circle cx="190.66" cy="356.4" r="2.15"/><circle cx="194.35" cy="353.2" r="2.15"/><circle cx="198.04" cy="353" r="2.15"/><circle cx="201.73" cy="353" r="2.15"/><circle cx="205.42" cy="353" r="2.15"/><circle cx="209.11" cy="353.6" r="2.15"/><circle cx="212.8" cy="353.6" r="2.15"/><circle cx="216.49" cy="353.6" r="2.15"/><circle cx="220.18" cy="348.7" r="2.15"/><circle cx="223.87" cy="350.1" r="2.15"/><circle cx="227.56" cy="352.8" r="2.15"/><circle cx="231.25" cy="351.1" r="2.15"/><circle cx="234.94" cy="347.1" r="2.15"/><circle cx="238.63" cy="349.1" r="2.15"/><circle cx="242.32" cy="347.1" r="2.15"/></g>
<polyline points="68.89,333.1 72.58,343.1 76.27,346.1 79.96,352.2 83.65,358.2 87.34,355.8 91.03,363.8 94.72,364.6 98.41,365.2 102.1,369.8 105.79,368.6 109.48,373.3 113.17,371.8 116.86,369.8 120.55,364.6 124.24,367.8 127.93,370.2 131.62,375.3 135.31,377.3 139,366.6 142.69,361.2 146.38,359.8 150.07,349.2 153.76,345.7 157.45,331.2 161.14,334.5 164.83,331.5 168.52,319.5 172.21,316.8 175.9,309.5 179.59,314.6 183.28,301.2 186.97,281.1 190.66,277.1 194.35,279.1 198.04,282.5 201.73,292.2 205.42,306.6 209.11,298.2 212.8,308.6 216.49,305.8 220.18,302.6 223.87,306.2 227.56,326.3 231.25,322.7 234.94,327.9 238.63,327.9 242.32,328.7" fill="none" stroke="#f00" stroke-width="1.0"/>
<path d="M131.62 372.3V378.3M130.52 372.3h2.2M130.52 378.3h2.2M135.31 374.3V380.3M134.21 374.3h2.2M134.21 380.3h2.2M161.14 330.5V338.5M160.04 330.5h2.2M160.04 338.5h2.2M164.83 327.5V335.5M163.73 327.5h2.2M163.73 335.5h2.2M168.52 314V325M167.42 314h2.2M167.42 325h2.2M172.21 311.3V322.3M171.11 311.3h2.2M171.11 322.3h2.2M175.9 304V315M174.8 304h2.2M174.8 315h2.2M179.59 309.1V320.1M178.49 309.1h2.2M178.49 320.1h2.2M183.28 295.7V306.7M182.18 295.7h2.2M182.18 306.7h2.2M186.97 276.1V286.1M185.87 276.1h2.2M185.87 286.1h2.2M190.66 268.1V286.1M189.56 268.1h2.2M189.56 286.1h2.2M194.35 269.1V289.1M193.25 269.1h2.2M193.25 289.1h2.2M198.04 275.5V289.5M196.94 275.5h2.2M196.94 289.5h2.2M201.73 284.2V300.2M200.63 284.2h2.2M200.63 300.2h2.2M205.42 301.6V311.6M204.32 301.6h2.2M204.32 311.6h2.2M209.11 293.2V303.2M208.01 293.2h2.2M208.01 303.2h2.2M212.8 304.6V312.6M211.7 304.6h2.2M211.7 312.6h2.2M216.49 301.8V309.8M215.39 301.8h2.2M215.39 309.8h2.2M220.18 298.6V306.6M219.08 298.6h2.2M219.08 306.6h2.2M223.87 302.2V310.2M222.77 302.2h2.2M222.77 310.2h2.2M227.56 323.3V329.3M226.46 323.3h2.2M226.46 329.3h2.2M231.25 319.7V325.7M230.15 319.7h2.2M230.15 325.7h2.2M234.94 324.9V330.9M233.84 324.9h2.2M233.84 330.9h2.2M238.63 324.9V330.9M237.53 324.9h2.2M237.53 330.9h2.2M242.32 325.7V331.7M241.22 325.7h2.2M241.22 331.7h2.2" fill="none" stroke="#f00" stroke-width="0.9"/>
<g fill="#fff" stroke="#f00" stroke-width="1.45"><circle cx="68.89" cy="333.1" r="2.15"/><circle cx="72.58" cy="343.1" r="2.15"/><circle cx="76.27" cy="346.1" r="2.15"/><circle cx="79.96" cy="352.2" r="2.15"/><circle cx="83.65" cy="358.2" r="2.15"/><circle cx="87.34" cy="355.8" r="2.15"/><circle cx="91.03" cy="363.8" r="2.15"/><circle cx="94.72" cy="364.6" r="2.15"/><circle cx="98.41" cy="365.2" r="2.15"/><circle cx="102.1" cy="369.8" r="2.15"/><circle cx="105.79" cy="368.6" r="2.15"/><circle cx="109.48" cy="373.3" r="2.15"/><circle cx="113.17" cy="371.8" r="2.15"/><circle cx="116.86" cy="369.8" r="2.15"/><circle cx="120.55" cy="364.6" r="2.15"/><circle cx="124.24" cy="367.8" r="2.15"/><circle cx="127.93" cy="370.2" r="2.15"/><circle cx="131.62" cy="375.3" r="2.15"/><circle cx="135.31" cy="377.3" r="2.15"/><circle cx="139" cy="366.6" r="2.15"/><circle cx="142.69" cy="361.2" r="2.15"/><circle cx="146.38" cy="359.8" r="2.15"/><circle cx="150.07" cy="349.2" r="2.15"/><circle cx="153.76" cy="345.7" r="2.15"/><circle cx="157.45" cy="331.2" r="2.15"/><circle cx="161.14" cy="334.5" r="2.15"/><circle cx="164.83" cy="331.5" r="2.15"/><circle cx="168.52" cy="319.5" r="2.15"/><circle cx="172.21" cy="316.8" r="2.15"/><circle cx="175.9" cy="309.5" r="2.15"/><circle cx="179.59" cy="314.6" r="2.15"/><circle cx="183.28" cy="301.2" r="2.15"/><circle cx="186.97" cy="281.1" r="2.15"/><circle cx="190.66" cy="277.1" r="2.15"/><circle cx="194.35" cy="279.1" r="2.15"/><circle cx="198.04" cy="282.5" r="2.15"/><circle cx="201.73" cy="292.2" r="2.15"/><circle cx="205.42" cy="306.6" r="2.15"/><circle cx="209.11" cy="298.2" r="2.15"/><circle cx="212.8" cy="308.6" r="2.15"/><circle cx="216.49" cy="305.8" r="2.15"/><circle cx="220.18" cy="302.6" r="2.15"/><circle cx="223.87" cy="306.2" r="2.15"/><circle cx="227.56" cy="326.3" r="2.15"/><circle cx="231.25" cy="322.7" r="2.15"/><circle cx="234.94" cy="327.9" r="2.15"/><circle cx="238.63" cy="327.9" r="2.15"/><circle cx="242.32" cy="328.7" r="2.15"/></g>
<path d="M309.4 246.8V401H485.8" fill="none" stroke="#000" stroke-width="1.4" stroke-linejoin="miter" stroke-linecap="butt"/>
<text x="301.8" y="406.8" text-anchor="end" font-size="16" font-family="Liberation Sans, sans-serif" textLength="30.11" lengthAdjust="spacingAndGlyphs">0.00</text>
<path d="M309.4 298.2h2.2" stroke="#000" stroke-width="1.4"/>
<text x="301.8" y="304" text-anchor="end" font-size="16" font-family="Liberation Sans, sans-serif" textLength="30.11" lengthAdjust="spacingAndGlyphs">0.01</text>
<path d="M353.5 401v-2.2" stroke="#000" stroke-width="1.4"/>
<text x="353.5" y="422" text-anchor="middle" font-size="16" font-family="Liberation Sans, sans-serif" textLength="17.21" lengthAdjust="spacingAndGlyphs">12</text>
<path d="M397.6 401v-2.2" stroke="#000" stroke-width="1.4"/>
<text x="397.6" y="422" text-anchor="middle" font-size="16" font-family="Liberation Sans, sans-serif" textLength="17.21" lengthAdjust="spacingAndGlyphs">24</text>
<path d="M441.7 401v-2.2" stroke="#000" stroke-width="1.4"/>
<text x="441.7" y="422" text-anchor="middle" font-size="16" font-family="Liberation Sans, sans-serif" textLength="17.21" lengthAdjust="spacingAndGlyphs">36</text>
<path d="M485.8 401v-2.2" stroke="#000" stroke-width="1.4"/>
<text x="485.8" y="422" text-anchor="middle" font-size="16" font-family="Liberation Sans, sans-serif" textLength="17.21" lengthAdjust="spacingAndGlyphs">48</text>
<text x="397.6" y="240" text-anchor="middle" font-size="18" font-family="Liberation Sans, sans-serif" textLength="147.76" lengthAdjust="spacingAndGlyphs">Cofactor synthesis</text>
<text x="255.9" y="223.7" font-size="22.5" font-family="Liberation Sans, sans-serif" textLength="14.98" lengthAdjust="spacingAndGlyphs">E</text>
<polyline points="312.19,384.3 315.88,388.3 319.57,388.3 323.26,388.3 326.95,387.7 330.64,385.7 334.33,387.7 338.02,387.7 341.71,385.3 345.4,387.7 349.09,386.3 352.78,372.2 356.47,379.7 360.16,375.6 363.85,375.2 367.54,368.2 371.23,367.6 374.92,374.2 378.61,374.8 382.3,374.8 385.99,373.2 389.68,373.2 393.37,369.6 397.06,370.2 400.75,367.6 404.44,360.2 408.13,339.5 411.82,338.5 415.51,330.1 419.2,329.4 422.89,322.8 426.58,327.3 430.27,317.4 433.96,323.2 437.65,344.9 441.34,371 445.03,371 448.72,371 452.41,371 456.1,371 459.79,371 463.48,371 467.17,371 470.86,371 474.55,371 478.24,370.8 481.93,373.8 485.62,380.9" fill="none" stroke="#000" stroke-width="1.0"/>
<path d="M352.78 367.4V377M351.68 367.4h2.2M351.68 377h2.2M356.47 375.7V383.7M355.37 375.7h2.2M355.37 383.7h2.2M360.16 371.6V379.6M359.06 371.6h2.2M359.06 379.6h2.2M363.85 371.2V379.2M362.75 371.2h2.2M362.75 379.2h2.2M367.54 364.2V372.2M366.44 364.2h2.2M366.44 372.2h2.2M408.13 335V344M407.03 335h2.2M407.03 344h2.2M411.82 334V343M410.72 334h2.2M410.72 343h2.2M415.51 325.6V334.6M414.41 325.6h2.2M414.41 334.6h2.2M419.2 324.9V333.9M418.1 324.9h2.2M418.1 333.9h2.2M422.89 318.3V327.3M421.79 318.3h2.2M421.79 327.3h2.2M426.58 322.8V331.8M425.48 322.8h2.2M425.48 331.8h2.2M430.27 312.9V321.9M429.17 312.9h2.2M429.17 321.9h2.2M433.96 318.7V327.7M432.86 318.7h2.2M432.86 327.7h2.2M437.65 340.9V348.9M436.55 340.9h2.2M436.55 348.9h2.2" fill="none" stroke="#000" stroke-width="0.9"/>
<g fill="#fff" stroke="#000" stroke-width="1.45"><circle cx="312.19" cy="384.3" r="2.15"/><circle cx="315.88" cy="388.3" r="2.15"/><circle cx="319.57" cy="388.3" r="2.15"/><circle cx="323.26" cy="388.3" r="2.15"/><circle cx="326.95" cy="387.7" r="2.15"/><circle cx="330.64" cy="385.7" r="2.15"/><circle cx="334.33" cy="387.7" r="2.15"/><circle cx="338.02" cy="387.7" r="2.15"/><circle cx="341.71" cy="385.3" r="2.15"/><circle cx="345.4" cy="387.7" r="2.15"/><circle cx="349.09" cy="386.3" r="2.15"/><circle cx="352.78" cy="372.2" r="2.15"/><circle cx="356.47" cy="379.7" r="2.15"/><circle cx="360.16" cy="375.6" r="2.15"/><circle cx="363.85" cy="375.2" r="2.15"/><circle cx="367.54" cy="368.2" r="2.15"/><circle cx="371.23" cy="367.6" r="2.15"/><circle cx="374.92" cy="374.2" r="2.15"/><circle cx="378.61" cy="374.8" r="2.15"/><circle cx="382.3" cy="374.8" r="2.15"/><circle cx="385.99" cy="373.2" r="2.15"/><circle cx="389.68" cy="373.2" r="2.15"/><circle cx="393.37" cy="369.6" r="2.15"/><circle cx="397.06" cy="370.2" r="2.15"/><circle cx="400.75" cy="367.6" r="2.15"/><circle cx="404.44" cy="360.2" r="2.15"/><circle cx="408.13" cy="339.5" r="2.15"/><circle cx="411.82" cy="338.5" r="2.15"/><circle cx="415.51" cy="330.1" r="2.15"/><circle cx="419.2" cy="329.4" r="2.15"/><circle cx="422.89" cy="322.8" r="2.15"/><circle cx="426.58" cy="327.3" r="2.15"/><circle cx="430.27" cy="317.4" r="2.15"/><circle cx="433.96" cy="323.2" r="2.15"/><circle cx="437.65" cy="344.9" r="2.15"/><circle cx="441.34" cy="371" r="2.15"/><circle cx="445.03" cy="371" r="2.15"/><circle cx="448.72" cy="371" r="2.15"/><circle cx="452.41" cy="371" r="2.15"/><circle cx="456.1" cy="371" r="2.15"/><circle cx="459.79" cy="371" r="2.15"/><circle cx="463.48" cy="371" r="2.15"/><circle cx="467.17" cy="371" r="2.15"/><circle cx="470.86" cy="371" r="2.15"/><circle cx="474.55" cy="371" r="2.15"/><circle cx="478.24" cy="370.8" r="2.15"/><circle cx="481.93" cy="373.8" r="2.15"/><circle cx="485.62" cy="380.9" r="2.15"/></g>
<polyline points="312.19,344.7 315.88,362.8 319.57,351.5 323.26,358.8 326.95,357.6 330.64,376.2 334.33,379.3 338.02,379.7 341.71,380.9 345.4,388.9 349.09,382.9 352.78,373.6 356.47,370.8 360.16,369.2 363.85,367.6 367.54,369.2 371.23,364.2 374.92,358.8 378.61,350.1 382.3,310.2 385.99,273.1 389.68,325.9 393.37,338.7 397.06,366.8 400.75,367.6 404.44,372.8 408.13,370.8 411.82,372.8 415.51,361.2 419.2,363.6 422.89,356.8 426.58,343.3 430.27,346.7 433.96,350.7 437.65,348.7 441.34,347.1 445.03,350.9 448.72,340.1 452.41,351.5 456.1,354.2 459.79,358.2 463.48,339.5 467.17,333 470.86,294.6 474.55,295.2 478.24,302.6 481.93,323.9 485.62,344.1" fill="none" stroke="#f00" stroke-width="1.0"/>
<path d="M312.19 340.5V348.9M311.09 340.5h2.2M311.09 348.9h2.2M315.88 358V367.6M314.78 358h2.2M314.78 367.6h2.2M319.57 346.7V356.3M318.47 346.7h2.2M318.47 356.3h2.2M323.26 353.2V364.4M322.16 353.2h2.2M322.16 364.4h2.2M326.95 352V363.2M325.85 352h2.2M325.85 363.2h2.2M382.3 305.2V315.2M381.2 305.2h2.2M381.2 315.2h2.2M385.99 260.1V286.1M384.89 260.1h2.2M384.89 286.1h2.2M389.68 320.4V331.4M388.58 320.4h2.2M388.58 331.4h2.2M393.37 333.2V344.2M392.27 333.2h2.2M392.27 344.2h2.2M415.51 357.2V365.2M414.41 357.2h2.2M414.41 365.2h2.2M419.2 359.6V367.6M418.1 359.6h2.2M418.1 367.6h2.2M422.89 352.8V360.8M421.79 352.8h2.2M421.79 360.8h2.2M426.58 339.3V347.3M425.48 339.3h2.2M425.48 347.3h2.2M448.72 335.1V345.1M447.62 335.1h2.2M447.62 345.1h2.2M463.48 335V344M462.38 335h2.2M462.38 344h2.2M467.17 328.5V337.5M466.07 328.5h2.2M466.07 337.5h2.2M470.86 282.6V306.6M469.76 282.6h2.2M469.76 306.6h2.2M474.55 286.2V304.2M473.45 286.2h2.2M473.45 304.2h2.2M478.24 294.6V310.6M477.14 294.6h2.2M477.14 310.6h2.2M481.93 318.9V328.9M480.83 318.9h2.2M480.83 328.9h2.2M485.62 339.1V349.1M484.52 339.1h2.2M484.52 349.1h2.2" fill="none" stroke="#f00" stroke-width="0.9"/>
<g fill="#fff" stroke="#f00" stroke-width="1.45"><circle cx="312.19" cy="344.7" r="2.15"/><circle cx="315.88" cy="362.8" r="2.15"/><circle cx="319.57" cy="351.5" r="2.15"/><circle cx="323.26" cy="358.8" r="2.15"/><circle cx="326.95" cy="357.6" r="2.15"/><circle cx="330.64" cy="376.2" r="2.15"/><circle cx="334.33" cy="379.3" r="2.15"/><circle cx="338.02" cy="379.7" r="2.15"/><circle cx="341.71" cy="380.9" r="2.15"/><circle cx="345.4" cy="388.9" r="2.15"/><circle cx="349.09" cy="382.9" r="2.15"/><circle cx="352.78" cy="373.6" r="2.15"/><circle cx="356.47" cy="370.8" r="2.15"/><circle cx="360.16" cy="369.2" r="2.15"/><circle cx="363.85" cy="367.6" r="2.15"/><circle cx="367.54" cy="369.2" r="2.15"/><circle cx="371.23" cy="364.2" r="2.15"/><circle cx="374.92" cy="358.8" r="2.15"/><circle cx="378.61" cy="350.1" r="2.15"/><circle cx="382.3" cy="310.2" r="2.15"/><circle cx="385.99" cy="273.1" r="2.15"/><circle cx="389.68" cy="325.9" r="2.15"/><circle cx="393.37" cy="338.7" r="2.15"/><circle cx="397.06" cy="366.8" r="2.15"/><circle cx="400.75" cy="367.6" r="2.15"/><circle cx="404.44" cy="372.8" r="2.15"/><circle cx="408.13" cy="370.8" r="2.15"/><circle cx="411.82" cy="372.8" r="2.15"/><circle cx="415.51" cy="361.2" r="2.15"/><circle cx="419.2" cy="363.6" r="2.15"/><circle cx="422.89" cy="356.8" r="2.15"/><circle cx="426.58" cy="343.3" r="2.15"/><circle cx="430.27" cy="346.7" r="2.15"/><circle cx="433.96" cy="350.7" r="2.15"/><circle cx="437.65" cy="348.7" r="2.15"/><circle cx="441.34" cy="347.1" r="2.15"/><circle cx="445.03" cy="350.9" r="2.15"/><circle cx="448.72" cy="340.1" r="2.15"/><circle cx="452.41" cy="351.5" r="2.15"/><circle cx="456.1" cy="354.2" r="2.15"/><circle cx="459.79" cy="358.2" r="2.15"/><circle cx="463.48" cy="339.5" r="2.15"/><circle cx="467.17" cy="333" r="2.15"/><circle cx="470.86" cy="294.6" r="2.15"/><circle cx="474.55" cy="295.2" r="2.15"/><circle cx="478.24" cy="302.6" r="2.15"/><circle cx="481.93" cy="323.9" r="2.15"/><circle cx="485.62" cy="344.1" r="2.15"/></g>
<path d="M562.5 246.8V401H738.9" fill="none" stroke="#000" stroke-width="1.4" stroke-linejoin="miter" stroke-linecap="butt"/>
<text x="554.9" y="406.8" text-anchor="end" font-size="16" font-family="Liberation Sans, sans-serif" textLength="30.11" lengthAdjust="spacingAndGlyphs">0.00</text>
<path d="M562.5 246.8h2.2" stroke="#000" stroke-width="1.4"/>
<text x="554.9" y="252.6" text-anchor="end" font-size="16" font-family="Liberation Sans, sans-serif" textLength="30.11" lengthAdjust="spacingAndGlyphs">0.01</text>
<path d="M606.6 401v-2.2" stroke="#000" stroke-width="1.4"/>
<text x="606.6" y="422" text-anchor="middle" font-size="16" font-family="Liberation Sans, sans-serif" textLength="17.21" lengthAdjust="spacingAndGlyphs">12</text>
<path d="M650.7 401v-2.2" stroke="#000" stroke-width="1.4"/>
<text x="650.7" y="422" text-anchor="middle" font-size="16" font-family="Liberation Sans, sans-serif" textLength="17.21" lengthAdjust="spacingAndGlyphs">24</text>
<path d="M694.8 401v-2.2" stroke="#000" stroke-width="1.4"/>
<text x="694.8" y="422" text-anchor="middle" font-size="16" font-family="Liberation Sans, sans-serif" textLength="17.21" lengthAdjust="spacingAndGlyphs">36</text>
<path d="M738.9 401v-2.2" stroke="#000" stroke-width="1.4"/>
<text x="738.9" y="422" text-anchor="middle" font-size="16" font-family="Liberation Sans, sans-serif" textLength="17.21" lengthAdjust="spacingAndGlyphs">48</text>
<text x="650.7" y="240" text-anchor="middle" font-size="18" font-family="Liberation Sans, sans-serif" textLength="192.75" lengthAdjust="spacingAndGlyphs">Inorganic ion generation</text>
<text x="498.4" y="223.7" font-size="22.5" font-family="Liberation Sans, sans-serif" textLength="13.72" lengthAdjust="spacingAndGlyphs">F</text>
<polyline points="565.29,359.8 568.98,373.9 572.67,375.9 576.36,359.2 580.05,373.9 583.74,372.3 587.43,361.8 591.12,366.7 594.81,373.3 598.5,378.7 602.19,377.3 605.88,376.3 609.57,376.3 613.26,376.3 616.95,376.3 620.64,376.3 624.33,376.3 628.02,376.3 631.71,376.3 635.4,376.3 639.09,376.3 642.78,376.3 646.47,376.3 650.16,376.3 653.85,376.3 657.54,376.3 661.23,376.3 664.92,376.3 668.61,369.8 672.3,352.7 675.99,340.7 679.68,354.5 683.37,343.8 687.06,371.8 690.75,372.5 694.44,373.7 698.13,373.7 701.82,373.7 705.51,373.7 709.2,373.7 712.89,373.7 716.58,373.7 720.27,373.7 723.96,373.7 727.65,373.7 731.34,373.7 735.03,366.8 738.72,343.4" fill="none" stroke="#000" stroke-width="1.0"/>
<path d="M565.29 356.3V363.3M564.19 356.3h2.2M564.19 363.3h2.2M576.36 352.2V366.2M575.26 352.2h2.2M575.26 366.2h2.2M587.43 358.8V364.8M586.33 358.8h2.2M586.33 364.8h2.2M672.3 347.7V357.7M671.2 347.7h2.2M671.2 357.7h2.2M675.99 335.7V345.7M674.89 335.7h2.2M674.89 345.7h2.2M679.68 349.5V359.5M678.58 349.5h2.2M678.58 359.5h2.2M683.37 338.8V348.8M682.27 338.8h2.2M682.27 348.8h2.2M687.06 364.3V379.3M685.96 364.3h2.2M685.96 379.3h2.2M690.75 365V380M689.65 365h2.2M689.65 380h2.2M738.72 339.4V347.4M737.62 339.4h2.2M737.62 347.4h2.2" fill="none" stroke="#000" stroke-width="0.9"/>
<g fill="#fff" stroke="#000" stroke-width="1.45"><circle cx="565.29" cy="359.8" r="2.15"/><circle cx="568.98" cy="373.9" r="2.15"/><circle cx="572.67" cy="375.9" r="2.15"/><circle cx="576.36" cy="359.2" r="2.15"/><circle cx="580.05" cy="373.9" r="2.15"/><circle cx="583.74" cy="372.3" r="2.15"/><circle cx="587.43" cy="361.8" r="2.15"/><circle cx="591.12" cy="366.7" r="2.15"/><circle cx="594.81" cy="373.3" r="2.15"/><circle cx="598.5" cy="378.7" r="2.15"/><circle cx="602.19" cy="377.3" r="2.15"/><circle cx="605.88" cy="376.3" r="2.15"/><circle cx="609.57" cy="376.3" r="2.15"/><circle cx="613.26" cy="376.3" r="2.15"/><circle cx="616.95" cy="376.3" r="2.15"/><circle cx="620.64" cy="376.3" r="2.15"/><circle cx="624.33" cy="376.3" r="2.15"/><circle cx="628.02" cy="376.3" r="2.15"/><circle cx="631.71" cy="376.3" r="2.15"/><circle cx="635.4" cy="376.3" r="2.15"/><circle cx="639.09" cy="376.3" r="2.15"/><circle cx="642.78" cy="376.3" r="2.15"/><circle cx="646.47" cy="376.3" r="2.15"/><circle cx="650.16" cy="376.3" r="2.15"/><circle cx="653.85" cy="376.3" r="2.15"/><circle cx="657.54" cy="376.3" r="2.15"/><circle cx="661.23" cy="376.3" r="2.15"/><circle cx="664.92" cy="376.3" r="2.15"/><circle cx="668.61" cy="369.8" r="2.15"/><circle cx="672.3" cy="352.7" r="2.15"/><circle cx="675.99" cy="340.7" r="2.15"/><circle cx="679.68" cy="354.5" r="2.15"/><circle cx="683.37" cy="343.8" r="2.15"/><circle cx="687.06" cy="371.8" r="2.15"/><circle cx="690.75" cy="372.5" r="2.15"/><circle cx="694.44" cy="373.7" r="2.15"/><circle cx="698.13" cy="373.7" r="2.15"/><circle cx="701.82" cy="373.7" r="2.15"/><circle cx="705.51" cy="373.7" r="2.15"/><circle cx="709.2" cy="373.7" r="2.15"/><circle cx="712.89" cy="373.7" r="2.15"/><circle cx="716.58" cy="373.7" r="2.15"/><circle cx="720.27" cy="373.7" r="2.15"/><circle cx="723.96" cy="373.7" r="2.15"/><circle cx="727.65" cy="373.7" r="2.15"/><circle cx="731.34" cy="373.7" r="2.15"/><circle cx="735.03" cy="366.8" r="2.15"/><circle cx="738.72" cy="343.4" r="2.15"/></g>
<polyline points="565.29,377.9 568.98,379.3 572.67,382.3 576.36,381.3 580.05,379.9 583.74,357.2 587.43,325.7 591.12,315.7 594.81,332.1 598.5,366.3 602.19,376.7 605.88,379 609.57,376.7 613.26,376.7 616.95,376.7 620.64,376.7 624.33,376.7 628.02,376.7 631.71,376.7 635.4,381.9 639.09,381.9 642.78,381.9 646.47,381.9 650.16,381.9 653.85,381.9 657.54,381.9 661.23,381.9 664.92,381.9 668.61,380.5 672.3,378.6 675.99,362.5 679.68,349.7 683.37,331.4 687.06,311.1 690.75,307.3 694.44,291.7 698.13,304.5 701.82,318.8 705.51,320 709.2,336.7 712.89,343.2 716.58,351.4 720.27,373.6 723.96,374.2 727.65,382.3 731.34,371.6 735.03,381.7 738.72,383.3" fill="none" stroke="#f00" stroke-width="1.0"/>
<path d="M587.43 317.7V333.7M586.33 317.7h2.2M586.33 333.7h2.2M591.12 303.7V327.7M590.02 303.7h2.2M590.02 327.7h2.2M594.81 324.1V340.1M593.71 324.1h2.2M593.71 340.1h2.2M683.37 326.4V336.4M682.27 326.4h2.2M682.27 336.4h2.2M687.06 306.1V316.1M685.96 306.1h2.2M685.96 316.1h2.2M690.75 302.3V312.3M689.65 302.3h2.2M689.65 312.3h2.2M694.44 286.7V296.7M693.34 286.7h2.2M693.34 296.7h2.2M698.13 298V311M697.03 298h2.2M697.03 311h2.2M701.82 312.3V325.3M700.72 312.3h2.2M700.72 325.3h2.2M705.51 313.5V326.5M704.41 313.5h2.2M704.41 326.5h2.2M709.2 330.2V343.2M708.1 330.2h2.2M708.1 343.2h2.2M712.89 336.7V349.7M711.79 336.7h2.2M711.79 349.7h2.2M716.58 344.9V357.9M715.48 344.9h2.2M715.48 357.9h2.2M720.27 369.6V377.6M719.17 369.6h2.2M719.17 377.6h2.2M723.96 370.2V378.2M722.86 370.2h2.2M722.86 378.2h2.2" fill="none" stroke="#f00" stroke-width="0.9"/>
<g fill="#fff" stroke="#f00" stroke-width="1.45"><circle cx="565.29" cy="377.9" r="2.15"/><circle cx="568.98" cy="379.3" r="2.15"/><circle cx="572.67" cy="382.3" r="2.15"/><circle cx="576.36" cy="381.3" r="2.15"/><circle cx="580.05" cy="379.9" r="2.15"/><circle cx="583.74" cy="357.2" r="2.15"/><circle cx="587.43" cy="325.7" r="2.15"/><circle cx="591.12" cy="315.7" r="2.15"/><circle cx="594.81" cy="332.1" r="2.15"/><circle cx="598.5" cy="366.3" r="2.15"/><circle cx="602.19" cy="376.7" r="2.15"/><circle cx="605.88" cy="379" r="2.15"/><circle cx="609.57" cy="376.7" r="2.15"/><circle cx="613.26" cy="376.7" r="2.15"/><circle cx="616.95" cy="376.7" r="2.15"/><circle cx="620.64" cy="376.7" r="2.15"/><circle cx="624.33" cy="376.7" r="2.15"/><circle cx="628.02" cy="376.7" r="2.15"/><circle cx="631.71" cy="376.7" r="2.15"/><circle cx="635.4" cy="381.9" r="2.15"/><circle cx="639.09" cy="381.9" r="2.15"/><circle cx="642.78" cy="381.9" r="2.15"/><circle cx="646.47" cy="381.9" r="2.15"/><circle cx="650.16" cy="381.9" r="2.15"/><circle cx="653.85" cy="381.9" r="2.15"/><circle cx="657.54" cy="381.9" r="2.15"/><circle cx="661.23" cy="381.9" r="2.15"/><circle cx="664.92" cy="381.9" r="2.15"/><circle cx="668.61" cy="380.5" r="2.15"/><circle cx="672.3" cy="378.6" r="2.15"/><circle cx="675.99" cy="362.5" r="2.15"/><circle cx="679.68" cy="349.7" r="2.15"/><circle cx="683.37" cy="331.4" r="2.15"/><circle cx="687.06" cy="311.1" r="2.15"/><circle cx="690.75" cy="307.3" r="2.15"/><circle cx="694.44" cy="291.7" r="2.15"/><circle cx="698.13" cy="304.5" r="2.15"/><circle cx="701.82" cy="318.8" r="2.15"/><circle cx="705.51" cy="320" r="2.15"/><circle cx="709.2" cy="336.7" r="2.15"/><circle cx="712.89" cy="343.2" r="2.15"/><circle cx="716.58" cy="351.4" r="2.15"/><circle cx="720.27" cy="373.6" r="2.15"/><circle cx="723.96" cy="374.2" r="2.15"/><circle cx="727.65" cy="382.3" r="2.15"/><circle cx="731.34" cy="371.6" r="2.15"/><circle cx="735.03" cy="381.7" r="2.15"/><circle cx="738.72" cy="383.3" r="2.15"/></g>
<text x="154.3" y="440.9" text-anchor="middle" font-size="18" font-family="Liberation Sans, sans-serif" textLength="60.88" lengthAdjust="spacingAndGlyphs">time (h)</text>
<text x="397.6" y="440.9" text-anchor="middle" font-size="18" font-family="Liberation Sans, sans-serif" textLength="60.88" lengthAdjust="spacingAndGlyphs">time (h)</text>
<text x="650.7" y="440.9" text-anchor="middle" font-size="18" font-family="Liberation Sans, sans-serif" textLength="60.88" lengthAdjust="spacingAndGlyphs">time (h)</text>
<text transform="translate(19.8 110.5) rotate(-90)" x="0" y="0" text-anchor="middle" font-size="18" font-family="Liberation Sans, sans-serif" textLength="81.85" lengthAdjust="spacingAndGlyphs">(g/h/gDW)</text>
<text transform="translate(28.1 323.9) rotate(-90)" x="0" y="0" text-anchor="middle" font-size="18" font-family="Liberation Sans, sans-serif" textLength="81.85" lengthAdjust="spacingAndGlyphs">(g/h/gDW)</text>
<circle cx="72.4" cy="48.4" r="1.9" fill="none" stroke="#000" stroke-width="1.2"/>
<circle cx="72.4" cy="58.4" r="1.9" fill="none" stroke="#f00" stroke-width="1.2"/>
<text x="82.7" y="51.8" font-size="18" font-family="Liberation Sans, sans-serif" textLength="33.94" lengthAdjust="spacingAndGlyphs">CTL</text>
<text x="82.6" y="67.1" font-size="18" font-family="Liberation Sans, sans-serif" textLength="34.94" lengthAdjust="spacingAndGlyphs">PYZ</text>
</svg>
</body></html>
